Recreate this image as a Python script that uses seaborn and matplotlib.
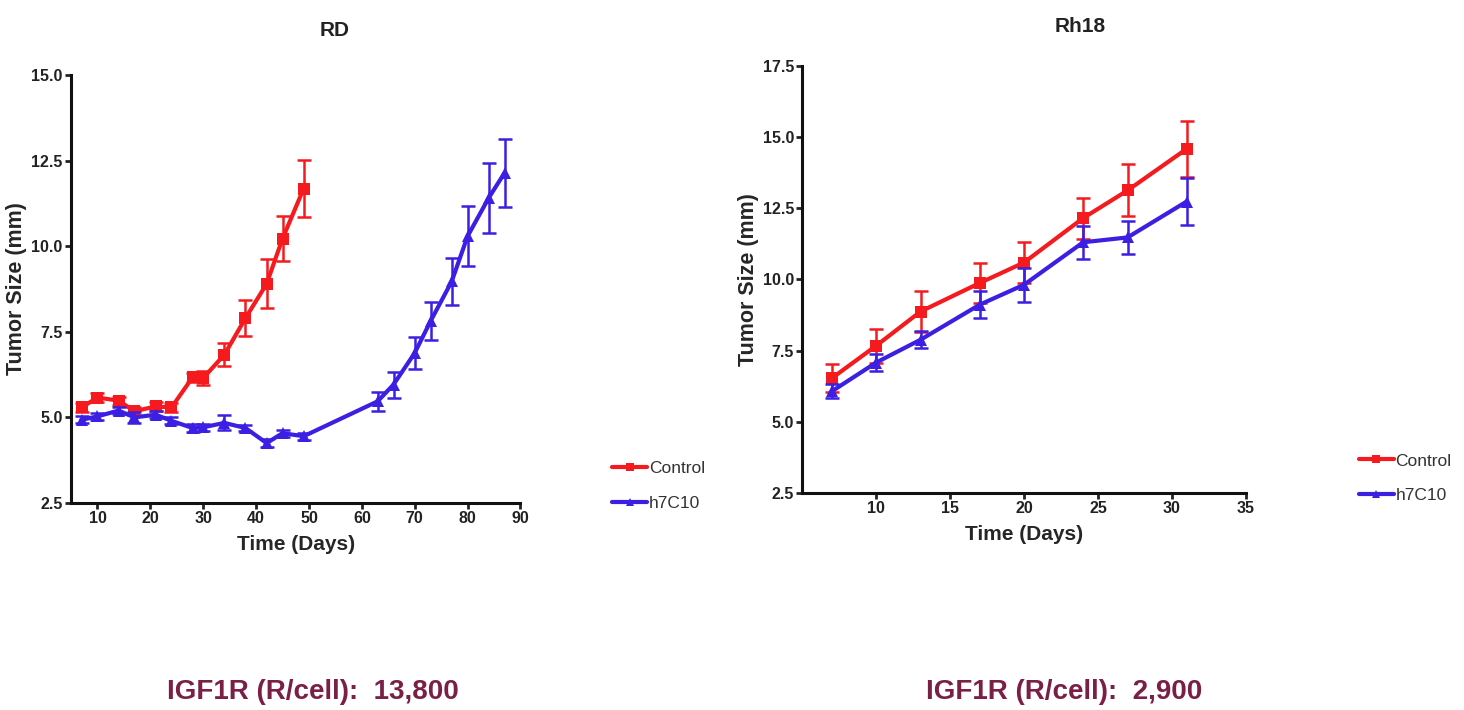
import numpy as np
import pandas as pd
import seaborn as sns
import matplotlib.pyplot as plt

# RD xenograft
rd_days_ctrl = [7, 10, 14, 17, 21, 24, 28, 30, 34, 38, 42, 45, 49]
rd_ctrl = [5.29, 5.58, 5.49, 5.18, 5.32, 5.29, 6.17, 6.15, 6.83, 7.90, 8.90, 10.22, 11.68]
rd_ctrl_err = [0.12, 0.12, 0.12, 0.12, 0.12, 0.12, 0.14, 0.2, 0.33, 0.53, 0.72, 0.66, 0.83]

rd_days_trt = [7, 10, 14, 17, 21, 24, 28, 30, 34, 38, 42, 45, 49, 63, 66, 70, 73, 77, 80, 84, 87]
rd_trt = [4.93, 5.03, 5.20, 5.00, 5.08, 4.90, 4.69, 4.71, 4.84, 4.69, 4.25, 4.54, 4.45,
          5.47, 5.96, 6.88, 7.81, 8.97, 10.29, 11.41, 12.14]
rd_trt_err = [0.1, 0.1, 0.1, 0.15, 0.1, 0.1, 0.12, 0.1, 0.22, 0.1, 0.12, 0.1, 0.1,
              0.28, 0.38, 0.47, 0.55, 0.69, 0.88, 1.02, 0.99]

# Rh18 xenograft
rh_days = [7, 10, 13, 17, 20, 24, 27, 31]
rh_ctrl = [6.53, 7.67, 8.87, 9.87, 10.59, 12.15, 13.12, 14.58]
rh_ctrl_err = [0.5, 0.6, 0.73, 0.71, 0.73, 0.72, 0.91, 0.98]
rh_trt = [6.07, 7.08, 7.88, 9.11, 9.81, 11.30, 11.47, 12.73]
rh_trt_err = [0.25, 0.3, 0.3, 0.47, 0.6, 0.57, 0.59, 0.82]

groups = ['Control', 'h7C10']
receptors = ['13,800', '2,900']

sns.set_theme(style='ticks')
plt.rcParams['font.family'] = ['Liberation Sans Narrow', 'Liberation Sans', 'DejaVu Sans']
plt.rcParams['font.weight'] = 'bold'

colors = {'Control': '#f41a1e', 'h7C10': '#3b1fe2'}
markers = {'Control': 's', 'h7C10': '^'}

fig = plt.figure(figsize=(14.64, 7.1), dpi=100)
ax1 = fig.add_axes([0.0485, 0.2915, 0.307, 0.603])
ax2 = fig.add_axes([0.548, 0.3056, 0.303, 0.602])


def draw(ax, days_list, vals_list, errs_list, leg_x, leg_y, ylab_x):
    for g, d, v, e in zip(groups, days_list, vals_list, errs_list):
        df = pd.DataFrame({'day': d, 'size': v})
        sns.lineplot(data=df, x='day', y='size', ax=ax, color=colors[g], marker=markers[g],
                     markersize=8, markeredgewidth=0, linewidth=3, label=g)
        ax.errorbar(d, v, yerr=e, fmt='none', ecolor=colors[g], elinewidth=1.8,
                    capsize=5, capthick=1.8)
    sns.despine(ax=ax)
    for s in ['left', 'bottom']:
        ax.spines[s].set_linewidth(2.2)
        ax.spines[s].set_color('#111111')
    ax.tick_params(width=2, length=4, labelsize=11.5, colors='#222222', pad=2)
    ax.set_xlabel('Time (Days)', fontsize=15, fontweight='bold', labelpad=6)
    ax.set_ylabel('Tumor Size (mm)', fontsize=15.5, fontweight='bold')
    ax.yaxis.set_label_coords(ylab_x, 0.5)
    leg = ax.legend(loc='center left', bbox_to_anchor=(leg_x, leg_y), frameon=False, fontsize=12.5,
                    handlelength=2.0, handletextpad=0.1, labelspacing=1.1, markerscale=0.8)
    for t in leg.get_texts():
        t.set_fontweight('normal')
        t.set_color('#333333')


draw(ax1, [rd_days_ctrl, rd_days_trt], [rd_ctrl, rd_trt], [rd_ctrl_err, rd_trt_err],
     1.17, 0.04, -0.098)
ax1.set_xlim(5, 90)
ax1.set_ylim(2.5, 15.0)
ax1.set_xticks(range(10, 91, 10))
ax1.set_yticks([2.5, 5.0, 7.5, 10.0, 12.5, 15.0])
ax1.set_yticklabels(['2.5', '5.0', '7.5', '10.0', '12.5', '15.0'])

draw(ax2, [rh_days, rh_days], [rh_ctrl, rh_trt], [rh_ctrl_err, rh_trt_err],
     1.22, 0.035, -0.098)
ax2.set_xlim(5, 35)
ax2.set_ylim(2.5, 17.5)
ax2.set_xticks(range(10, 36, 5))
ax2.set_yticks([2.5, 5.0, 7.5, 10.0, 12.5, 15.0, 17.5])
ax2.set_yticklabels(['2.5', '5.0', '7.5', '10.0', '12.5', '15.0', '17.5'])

fig.text(335 / 1464, 1 - 30 / 710, 'RD', ha='center', va='center', fontsize=15, fontweight='bold',
         color='#222222')
fig.text(1080 / 1464, 1 - 27 / 710, 'Rh18', ha='center', va='center', fontsize=15,
         fontweight='bold', color='#222222')

fig.text(313 / 1464, 1 - 692 / 710, f'IGF1R (R/cell):  {receptors[0]}', ha='center', va='center',
         fontsize=20, fontweight='bold', color='#7a1f45')
fig.text(1064 / 1464, 1 - 692 / 710, f'IGF1R (R/cell):  {receptors[1]}', ha='center', va='center',
         fontsize=20, fontweight='bold', color='#7a1f45')

fig.savefig('out.png', dpi=100)
